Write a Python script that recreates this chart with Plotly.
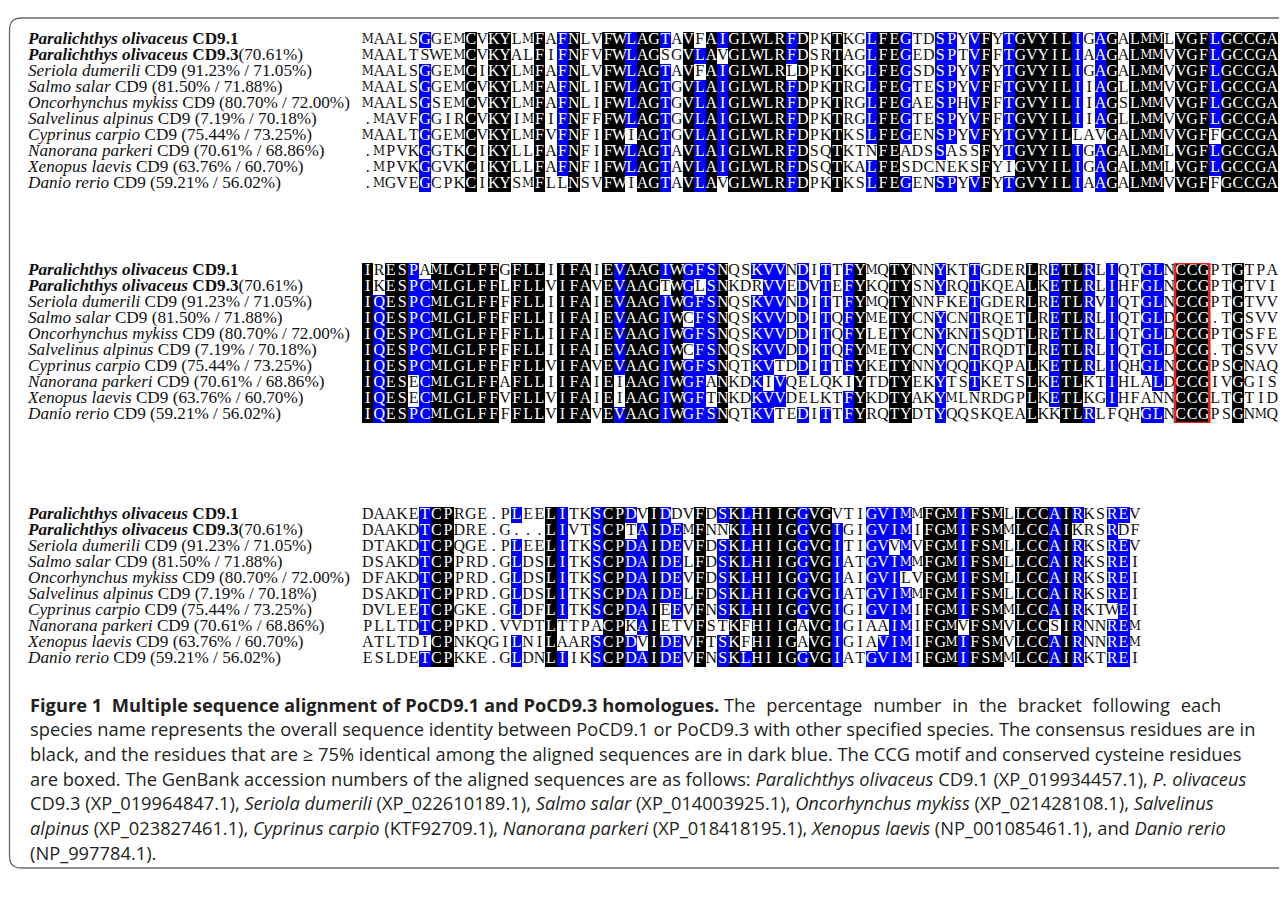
import plotly.graph_objects as go
from collections import Counter

# ---------------- data ----------------
species = ["Paralichthys olivaceus", "Paralichthys olivaceus", "Seriola dumerili", "Salmo salar",
           "Oncorhynchus mykiss", "Salvelinus alpinus", "Cyprinus carpio", "Nanorana parkeri",
           "Xenopus laevis", "Danio rerio"]
genes = ["CD9.1", "CD9.3", "CD9", "CD9", "CD9", "CD9", "CD9", "CD9", "CD9", "CD9"]
identity = ["", "(70.61%)", "(91.23% / 71.05%)", "(81.50% / 71.88%)", "(80.70% / 72.00%)",
            "(7.19% / 70.18%)", "(75.44% / 73.25%)", "(70.61% / 68.86%)", "(63.76% / 60.70%)",
            "(59.21% / 56.02%)"]

block1 = [
    "MAALSGGEMCVKYLMFAFNLVFWLAGTAVFAIGLWLRFDPKTKGLFEGTDSPYVFYTGVYILIGAGALMMLVGFLGCCGA",
    "MAALTSWEMCVKYALFIFNFVFWLAGSGVLAVGLWLRFDSRTAGLFEGEDSPTVFFTGVYILIAAGALMMVVGFLGCCGA",
    "MAALSGGEMCIKYLMFAFNLVFWLAGTAVFAIGLWLRLDPKTKGLFEGSDSPYVFYTGVYILIGAGALMMVVGFLGCCGA",
    "MAALSGGEMCVKYLMFAFNLIFWLAGTGVLAIGLWLRFDPKTRGLFEGTESPYVFFTGVYILIIAGLLMMVVGFLGCCGA",
    "MAALSGSEMCVKYLMFAFNLIFWLAGTGVLAIGLWLRFDPKTRGLFEGAESPHVFFTGVYILIIAGSLMMVVGFLGCCGA",
    ".MAVFGGIRCVKYIMFIFNFFFWLAGTGVLAIGLWLRFDPKTRGLFEGTESPYVFFTGVYILIIAGLLMMVVGFLGCCGA",
    "MAALTGGEMCVKYLMFVFNFIFWIAGTGVLAIGLWLRFDPKTKSLFEGENSPYVFYTGVYILLAVGALMMVVGFFGCCGA",
    ".MPVKGGTKCIKYLLFAFNFIFWLAGTAVLAIGLWLRFDSQTKTNFEADSSASSFYTGVYILIGAGALMMLVGFLGCCGA",
    ".MPVKGGVKCIKYLLFAFNFIFWLAGTAVLAIGLWLRFDSQTKALFESDCNEKSFYIGVYILIGAGALMMLVGFLGCCGA",
    ".MGVEGCPKCIKYSMFLLNSVFWIAGTAVLAVGLWLRFDPKTKSLFEGENSPYVFYTGVYILIAAGALMMVVGFFGCCGA",
]
block2 = [
    "IRESPAMLGLFFGFLLIIFAIEVAAGIWGFSNQSKVVNDITTFYMQTYNNYKTTGDERLRETLRLIQTGLNCCGPTGTPA",
    "IKESPCMLGLFFLFLLVIFAVEVAAGTWGLSNKDRVVEDVTEFYKQTYSNYRQTKQEALKETLRLIHFGLNCCGPTGTVI",
    "IQESPCMLGLFFFFLLIIFAIEVAAGIWGFSNQSKVVNDITTFYMQTYNNFKETGDERLRETLRVIQTGLNCCGPTGTVV",
    "IQESPCMLGLFFFFLLIIFAIEVAAGIWCFSNQSKVVDDITQFYMETYCNYCNTRQETLRETLRLIQTGLDCCG.TGSVV",
    "IQESPCMLGLFFFFLLIIFAIEVAAGIWGFSNQSKVVDDITQFYLETYCNYKNTSQDTLRETLRLIQTGLDCCGPTGSFE",
    "IQESPCMLGLFFFFLLIIFAIEVAAGIWCFSNQSKVVDDITQFYMETYCNYCNTRQDTLRETLRLIQTGLDCCG.TGSVV",
    "IQESPCMLGLFFFFLLVIFAVEVAAGIWGFSNQTKVTDDITTFYKETYNNYQQTKQPALKETLRLIQHGLNCCGPSGNAQ",
    "IQESECMLGLFFAFLLIIFAIEIAAGIWGFANKDKIVQELQKIYTDTYEKYTSTKETSLKETLKTIHLALDCCGIVGGIS",
    "IQESECMLGLFFVFLLVIFAIEIAAGIWGFTNKDKVVDELKTFYKDTYAKYMLNRDGPLKETLKGIHFANNCCGLTGTID",
    "IQESPCMLGLFFFFLLVIFAVEVAAGIWGFSNQTKVTEDITTFYRQTYDTYQQSKQEALKKTLRLFQHGLNCCGPSGNMQ",
]
block3 = [
    "DAAKETCPRGE.PLEELITKSCPDVIDDVFDSKLHIIGGVGVTIGVIMMFGMIFSMLLCCAIRKSREV",
    "DAAKDTCPDRE.G...LIVTSCPTAIDEMFNNKLHIIGGVGIGIGVIMIFGMIFSMMLCCAIKRSRDF",
    "DTAKDTCPQGE.PLEELITKSCPDAIDEVFDSKLHIIGGVGITIGVVMVFGMIFSMLLCCAIRKSREV",
    "DSAKDTCPPRD.GLDSLITKSCPDAIDELFDSKLHIIGGVGIATGVIMMFGMIFSMLLCCAIRKSREI",
    "DFAKDTCPPRD.GLDSLITKSCPDAIDEVFDSKLHIIGGVGIAIGVILVFGMIFSMLLCCAIRKSREI",
    "DSAKDTCPPRD.GLDSLITKSCPDAIDELFDSKLHIIGGVGIATGVIMMFGMIFSMLLCCAIRKSREI",
    "DVLEETCPGKE.GLDFLITKSCPDAIEEVFNSKLHIIGGVGIGIGVIMIFGMIFSMMLCCAIRKTWEI",
    "PLLTDTCPPKD.VVDTLTTPACPKAIETVFSTKFHIIGAVGIGIAAIMIFGMVFSMVLCCSIRNNREM",
    "ATLTDICPNKQGILNILAARSCPDVIDEVFTSKFHIIGAVGIGIAVIMIFGMIFSMVLCCAIRNNREM",
    "ESLDETCPKKE.GLDNLIIKSCPDAIDEVFNSKLHIIGGVGIATGVIMIFGMIFSMMLCCAIRKTREI",
]
blocks = [block1, block2, block3]
motif = "CCG"
motif_block = 1          # the CCG motif boxed in the second block

SP = " \u2004"  # slightly wider word space used on the first caption line
caption_lines = [
    "<b>Figure 1  Multiple sequence alignment of PoCD9.1 and PoCD9.3 homologues.</b> "
    + SP.join("The percentage number in the bracket following each".split(" ")),
    "species name represents the overall sequence identity between PoCD9.1 or PoCD9.3 with other specified species. The consensus residues are in",
    "black, and the residues that are \u2265 75% identical among the aligned sequences are in dark blue. The CCG motif and conserved cysteine residues",
    "are boxed. The GenBank accession numbers of the aligned sequences are as follows: <i>Paralichthys olivaceus</i> CD9.1 (XP_019934457.1), <i>P. olivaceus</i>",
    "CD9.3 (XP_019964847.1), <i>Seriola dumerili</i> (XP_022610189.1), <i>Salmo salar</i> (XP_014003925.1), <i>Oncorhynchus mykiss</i> (XP_021428108.1), <i>Salvelinus</i>",
    "<i>alpinus</i> (XP_023827461.1), <i>Cyprinus carpio</i> (KTF92709.1), <i>Nanorana parkeri</i> (XP_018418195.1), <i>Xenopus laevis</i> (NP_001085461.1), and <i>Danio rerio</i>",
    "(NP_997784.1).",
]

# ---------------- layout constants ----------------
W, H = 1287, 898
SEQ_X0 = 354.0      # px, left edge of first residue cell
CW = 11.45          # px per residue
ROW0 = [32.0, 263.0, 507.0]   # px, centre of first row of each block
PITCH = 16.0        # px per row
LABEL_X = 20.0
CAP_Y = [696 + i * 24.67 for i in range(7)]
BLUE = "#0000FF"
SEQ_FAMILY = "Liberation Serif, Times New Roman, serif"
WIDE_FAMILY = "DejaVu Serif Condensed, Liberation Serif, serif"   # narrow face for M
SEQ_SIZE, WIDE_SIZE = 16, 13.2
LAB_FONT = dict(family="Liberation Serif, Times New Roman, serif", size=17.2, color="#111")


def shade(seqs):
    n = len(seqs)
    L = len(seqs[0])
    z = [[0] * L for _ in range(n)]
    for c in range(L):
        col = [s[c] for s in seqs]
        cnt = Counter(ch for ch in col if ch != ".")
        top, k = cnt.most_common(1)[0]
        if k == n:
            for r in range(n):
                z[r][c] = 2
        elif k >= 0.75 * n:
            for r in range(n):
                if col[r] == top:
                    z[r][c] = 1
    return z


def label_text(i):
    if i < 2:
        return f"<b><i>{species[i]}</i> {genes[i]}</b>" + identity[i]
    return f"<i>{species[i]}</i> {genes[i]} {identity[i]}"


fig = go.Figure()

x_lo = -0.5 - SEQ_X0 / CW
x_hi = x_lo + W / CW
label_xv = -0.5 + (LABEL_X - SEQ_X0) / CW

layout_axes = {}
for b, seqs in enumerate(blocks):
    ya = "y" if b == 0 else f"y{b+1}"
    yname = "yaxis" if b == 0 else f"yaxis{b+1}"
    n = len(seqs)
    L = len(seqs[0])
    z = shade(seqs)
    fig.add_trace(go.Heatmap(
        z=z, x=list(range(L)), y=list(range(n)), xaxis="x", yaxis=ya,
        zmin=0, zmax=2, showscale=False, hoverinfo="skip",
        colorscale=[[0, "#FFFFFF"], [0.333, "#FFFFFF"], [0.333, BLUE], [0.667, BLUE],
                    [0.667, "#000000"], [1, "#000000"]]))
    xs, ys, ts, cs, ss, fs = [], [], [], [], [], []
    for r, s in enumerate(seqs):
        for c, ch in enumerate(s):
            xs.append(c); ys.append(r); ts.append(ch)
            cs.append("#FFFFFF" if z[r][c] > 0 else "#111111")
            wide = ch == "M"
            ss.append(WIDE_SIZE if wide else SEQ_SIZE)
            fs.append(WIDE_FAMILY if wide else SEQ_FAMILY)
    fig.add_trace(go.Scatter(x=xs, y=ys, text=ts, mode="text", xaxis="x", yaxis=ya,
                             textfont=dict(color=cs, size=ss, family=fs),
                             hoverinfo="skip", showlegend=False))
    fig.add_trace(go.Scatter(x=[label_xv] * n, y=list(range(n)),
                             text=[label_text(i) for i in range(n)],
                             mode="text", textposition="middle right", xaxis="x", yaxis=ya,
                             textfont=LAB_FONT, hoverinfo="skip", showlegend=False))
    top_px = ROW0[b] - PITCH / 2
    bot_px = ROW0[b] + (n - 1) * PITCH + PITCH / 2
    layout_axes[yname] = dict(domain=[1 - bot_px / H, 1 - top_px / H], range=[n - 0.5, -0.5],
                              anchor="x", visible=False, fixedrange=True)
    if b == motif_block:
        for k in range(L - len(motif) + 1):
            if all(s[k:k + len(motif)] == motif for s in seqs):
                fig.add_shape(type="rect", xref="x", yref=ya, x0=k - 0.5,
                              x1=k + len(motif) - 0.5, y0=-0.5, y1=n - 0.5,
                              line=dict(color="#E3241B", width=2.5))

fig.update_layout(
    width=W, height=H, margin=dict(l=0, r=0, t=0, b=0),
    paper_bgcolor="white", plot_bgcolor="white", showlegend=False,
    xaxis=dict(domain=[0, 1], range=[x_lo, x_hi], visible=False, fixedrange=True),
    **layout_axes,
)


def px(x):
    return x / W


def py(y):
    return 1 - y / H


L_, T_, R_, B_, rad = 1.5, 10, 1310, 860, 12
path = (f"M {px(R_)},{py(T_)} L {px(L_+rad)},{py(T_)} Q {px(L_)},{py(T_)} {px(L_)},{py(T_+rad)} "
        f"L {px(L_)},{py(B_-rad)} Q {px(L_)},{py(B_)} {px(L_+rad)},{py(B_)} L {px(R_)},{py(B_)}")
fig.add_shape(type="path", xref="paper", yref="paper", path=path,
              line=dict(color="#6b6b6b", width=1.3))

for i, line in enumerate(caption_lines):
    fig.add_annotation(xref="paper", yref="paper", x=px(LABEL_X), y=py(CAP_Y[i]),
                       xanchor="left", yanchor="middle", showarrow=False, align="left",
                       text=line, font=dict(family="Open Sans, sans-serif", size=18.3,
                                            color="#231f20"))

fig.write_html("out.html")
